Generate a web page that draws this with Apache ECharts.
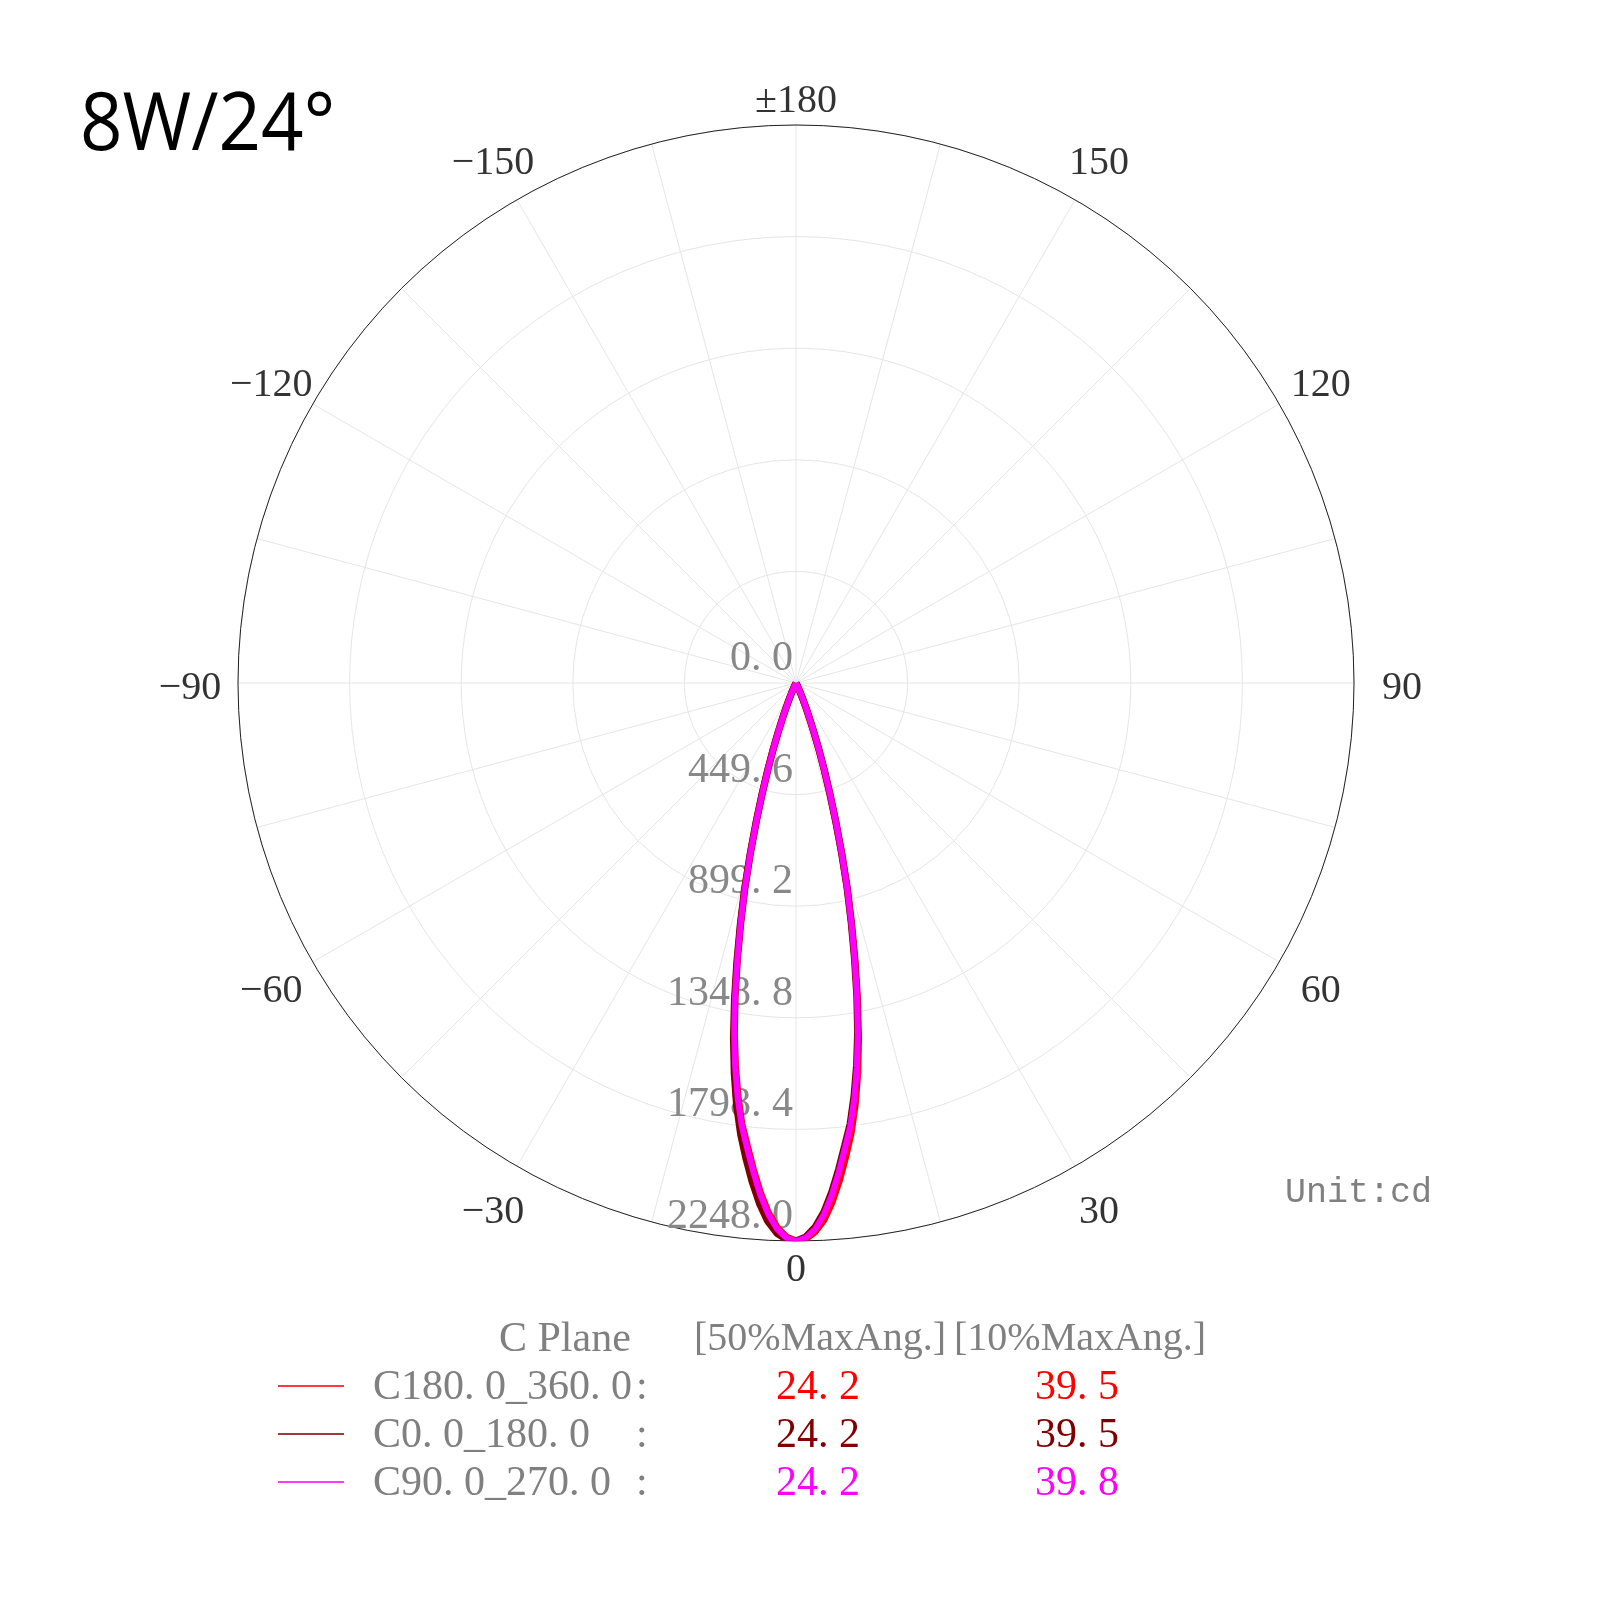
<!DOCTYPE html>
<html>
<head>
<meta charset="utf-8">
<script src="https://cdn.jsdelivr.net/npm/echarts@6/dist/echarts.min.js"></script>
<style>html,body{margin:0;padding:0;background:#fff}#c{width:1600px;height:1600px}</style>
</head>
<body>
<div id="c"></div>
<script>
// ---- data ----
const title = '8W/24°';
const unitText = 'Unit:cd';
const radiusMax = 2248.0;
const radiusLabels = ['0. 0', '449. 6', '899. 2', '1348. 8', '1798. 4', '2248. 0'];
const angleTicks = [0, 30, 60, 90, 120, 150, 180, 210, 240, 270, 300, 330];
const angleLabels = ['0', '30', '60', '90', '120', '150', '±180', '\u2212150', '\u2212120', '\u221290', '\u221260', '\u221230'];
// gamma angles (deg from nadir)
const gamma = [0,1,2,3,4,5,6,7,8,9,10,11,12,13,14,15,16,17,18,19,20,21,22,23,24,25,26,27,28,29,30,40,60,90,120,150,180];
// C180_360 (red): right side (+) and left side (-)
const redRight = [2248,2240,2212,2165,2095,2010,1918,1825,1715,1590,1452,1300,1146,998,858,716,585,470,370,284,209,151,105,70,45,28,17,10,6,3,2,0,0,0,0,0,0];
const redLeft  = [2248,2232,2195,2136,2058,1968,1875,1790,1680,1560,1430,1284,1132,987,850,710,580,466,366,280,207,149,103,69,44,27,16,9,5,3,2,0,0,0,0,0,0];
// C0_180 (dark red)
const darkRight = [2248,2232,2194,2135,2057,1967,1874,1789,1679,1559,1429,1283,1131,986,849,709,579,465,365,280,206,149,103,69,44,27,16,9,5,3,2,0,0,0,0,0,0];
const darkLeft  = [2248,2242,2218,2172,2104,2020,1928,1832,1720,1592,1452,1300,1146,998,858,716,585,470,370,284,209,151,105,70,45,28,17,10,6,3,2,0,0,0,0,0,0];
// C90_270 (magenta)
const magRight = [2248,2236,2202,2145,2068,1978,1885,1798,1690,1568,1436,1288,1136,990,852,712,582,468,368,282,208,150,104,70,45,28,17,10,6,3,2,0,0,0,0,0,0];
const magLeft  = [2248,2236,2200,2142,2066,1976,1884,1796,1688,1566,1434,1287,1135,989,851,711,581,467,367,281,208,150,104,70,45,28,17,10,6,3,2,0,0,0,0,0,0];

const legendHeader = ['C Plane', '[50%MaxAng.]', '[10%MaxAng.]'];
const planeNames = ['C180. 0_360. 0', 'C0. 0_180. 0', 'C90. 0_270. 0'];
const half50 = ['24. 2', '24. 2', '24. 2'];
const tenth10 = ['39. 5', '39. 5', '39. 8'];
const colors = ['#ff0000', '#800000', '#ff00ff'];
const legendLineColors = ['#ff3a3a', '#a03a3a', '#ff3aff'];

// ---- build ----
function buildSeries(right, left) {
  const l = [];
  for (let i = gamma.length - 1; i >= 1; i--) l.push([left[i], 360 - gamma[i]]);
  const r = [];
  for (let i = 0; i < gamma.length; i++) r.push([right[i], gamma[i]]);
  return l.concat(r);
}

const chart = echarts.init(document.getElementById('c'), null, {renderer: 'canvas'});
const serif = 'Liberation Serif';
const cx = 796, cy = 683, R = 558;

const graphics = [
  {type: 'text', x: 80, y: 87, scaleX: 0.93, style: {text: title, font: '80px "Open Sans"', fill: '#000', textVerticalAlign: 'top'}},
  {type: 'text', left: 1285, top: 1175, style: {text: unitText, font: '35px "Liberation Mono"', fill: '#808080'}},
  {type: 'text', left: 499, top: 1319, style: {text: legendHeader[0], font: '42px "Liberation Serif"', fill: '#808080'}},
  {type: 'text', left: 694, top: 1319, style: {text: legendHeader[1], font: '40px "Liberation Serif"', fill: '#808080'}},
  {type: 'text', left: 954, top: 1319, style: {text: legendHeader[2], font: '40px "Liberation Serif"', fill: '#808080'}}
];
const rowY = [1386, 1434, 1482];
for (let k = 0; k < 3; k++) {
  graphics.push({type: 'line', shape: {x1: 278, y1: rowY[k], x2: 344, y2: rowY[k]}, style: {stroke: legendLineColors[k], lineWidth: 2}});
  graphics.push({type: 'text', left: 373, top: rowY[k] - 19, style: {text: planeNames[k], font: '42px "Liberation Serif"', fill: '#808080'}});
  graphics.push({type: 'text', left: 636, top: rowY[k] - 19, style: {text: ':', font: '42px "Liberation Serif"', fill: '#808080'}});
  graphics.push({type: 'text', left: 776, top: rowY[k] - 19, style: {text: half50[k], font: '42px "Liberation Serif"', fill: colors[k]}});
  graphics.push({type: 'text', left: 1035, top: rowY[k] - 19, style: {text: tenth10[k], font: '42px "Liberation Serif"', fill: colors[k]}});
}

// angle tick labels placed just outside the circle (label-centre position, slightly lowered)
const angleLabelData = angleTicks.map(function (a) {
  const rl = a === 0 ? 587 : (a === 180 ? 582 : 606);
  const shift = (a % 180 === 0) ? 0 : 5;
  const th = (270 + a) * Math.PI / 180;
  const dx = rl * Math.cos(th);
  const dy = -rl * Math.sin(th) + shift;
  const r = Math.sqrt(dx * dx + dy * dy);
  let v = Math.atan2(-dy, dx) * 180 / Math.PI - 270;
  v = ((v % 360) + 360) % 360;
  return [r / R * radiusMax, v];
});

const option = {
  backgroundColor: '#fff',
  animation: false,
  polar: {center: [cx, cy], radius: R},
  angleAxis: {
    type: 'value', min: 0, max: 360, interval: 15, startAngle: 270, clockwise: false,
    axisLine: {show: true, lineStyle: {color: '#222', width: 1}},
    axisTick: {show: false},
    splitLine: {show: true, lineStyle: {color: '#e6e6e6', width: 1}},
    axisLabel: {show: false}
  },
  radiusAxis: {
    type: 'value', min: 0, max: radiusMax, interval: radiusMax / 5,
    axisLine: {show: false}, axisTick: {show: false},
    splitLine: {show: true, lineStyle: {color: '#e6e6e6', width: 1}},
    axisLabel: {
      show: true, color: '#888', fontFamily: serif, fontSize: 42, margin: -3,
      align: 'right', verticalAlign: 'bottom', padding: [0, 0, 3, 0],
      formatter: function (v, i) { return radiusLabels[i]; }
    }
  },
  series: [
    {type: 'line', coordinateSystem: 'polar', data: buildSeries(redRight, redLeft), symbol: 'none', lineStyle: {color: colors[0], width: 7}, z: 3},
    {type: 'line', coordinateSystem: 'polar', data: buildSeries(darkRight, darkLeft), symbol: 'none', lineStyle: {color: colors[1], width: 7}, z: 4},
    {type: 'line', coordinateSystem: 'polar', data: buildSeries(magRight, magLeft), symbol: 'none', lineStyle: {color: colors[2], width: 6}, z: 5},
    {
      type: 'scatter', coordinateSystem: 'polar', data: angleLabelData, symbol: 'circle', symbolSize: 2, clip: false, silent: true,
      itemStyle: {color: 'rgba(255,255,255,0)'},
      label: {
        show: true, position: 'inside', color: '#000', fontFamily: serif, fontSize: 40,
        formatter: function (p) { return angleLabels[p.dataIndex]; }
      },
      labelLayout: {hideOverlap: false},
      z: 6
    }
  ],
  graphic: graphics
};
chart.setOption(option);
</script>
</body>
</html>
